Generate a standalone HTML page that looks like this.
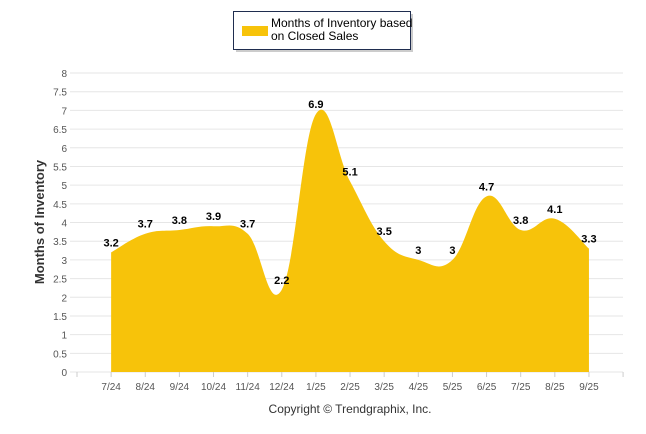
<!DOCTYPE html>
<html><head><meta charset="utf-8"><style>
body{margin:0;background:#fff;font-family:"Liberation Sans",Arial,sans-serif}
svg{display:block}
</style></head><body>
<svg width="646" height="434">
<g id="grid"></g>
<g id="ylabels"></g>
<g id="xlabels"></g>
<path id="area" fill="#f7c30a"/>
<g id="vals"></g>
<text x="-222" y="44" transform="rotate(-90)" text-anchor="middle" font-size="13" font-weight="bold" fill="#333">Months of Inventory</text>
<text x="350" y="413" text-anchor="middle" font-size="12" fill="#333">Copyright © Trendgraphix, Inc.</text>
<g>
<rect x="236" y="14" width="177" height="38" fill="#999" opacity="0.5"/>
<rect x="233.5" y="11.5" width="177" height="38" fill="#fff" stroke="#1f2d4f" stroke-width="1"/>
<rect x="242" y="26" width="26" height="10" fill="#f7c30a"/>
<text x="271" y="27" font-size="12" fill="#000"><tspan x="271">Months of Inventory based</tspan><tspan x="271" dy="13">on Closed Sales</tspan></text>
</g>
</svg>
<script>
const categories=["7/24","8/24","9/24","10/24","11/24","12/24","1/25","2/25","3/25","4/25","5/25","6/25","7/25","8/25","9/25"];
const values=[3.2,3.7,3.8,3.9,3.7,2.2,6.9,5.1,3.5,3,3,4.7,3.8,4.1,3.3];
const yTicks=[0,0.5,1,1.5,2,2.5,3,3.5,4,4.5,5,5.5,6,6.5,7,7.5,8];
const NS="http://www.w3.org/2000/svg";
const x0=77,step=34.13,y0=372,yMax=8,yPx=299;
const X=i=>x0+(i+1)*step;
const Y=v=>y0-v/yMax*yPx;
function el(t,a,p){const e=document.createElementNS(NS,t);for(const k in a)e.setAttribute(k,a[k]);p.appendChild(e);return e;}
const grid=document.getElementById('grid'),yl=document.getElementById('ylabels'),xl=document.getElementById('xlabels'),vals=document.getElementById('vals');
yTicks.forEach(t=>{
 const l=el('line',{x1:70,x2:623,y1:Y(t),y2:Y(t),stroke:'#e6e6e6','stroke-width':1},grid);
 
 
 const tx=el('text',{x:67,y:Y(t)+4,'text-anchor':'end','font-size':10,fill:'#555'},yl);
 tx.textContent=t;
 
 
});
for(let i=0;i<=categories.length+1;i++){
 const tk=el('line',{x1:x0+i*step,x2:x0+i*step,y1:y0,y2:y0+5,stroke:'#ccc'},grid);
 
 
}
categories.forEach((c,i)=>{
 const t=el('text',{x:X(i),y:390,'text-anchor':'middle','font-size':10,fill:'#555'},xl);
 t.textContent=c;
 
 
 const v=el('text',{x:X(i),y:Y(values[i])-6,'text-anchor':'middle','font-size':11,'font-weight':'bold',fill:'#000'},vals);
 v.textContent=values[i];
 
 
});
const pts=values.map((v,i)=>[X(i),Y(v)]);
let d=`M${pts[0][0]},${y0}L${pts[0][0]},${pts[0][1]}`;
const sm=0.2;
for(let i=0;i<pts.length-1;i++){
 const p0=pts[Math.max(i-1,0)],p1=pts[i],p2=pts[i+1],p3=pts[Math.min(i+2,pts.length-1)];
 const c1=[p1[0]+(p2[0]-p0[0])*sm,p1[1]+(p2[1]-p0[1])*sm];
 const c2=[p2[0]-(p3[0]-p1[0])*sm,p2[1]-(p3[1]-p1[1])*sm];
 d+=`C${c1[0]},${c1[1]} ${c2[0]},${c2[1]} ${p2[0]},${p2[1]}`;
}
d+=`L${pts[pts.length-1][0]},${y0}Z`;
document.getElementById('area').setAttribute('d',d);
</script>
</body></html>
